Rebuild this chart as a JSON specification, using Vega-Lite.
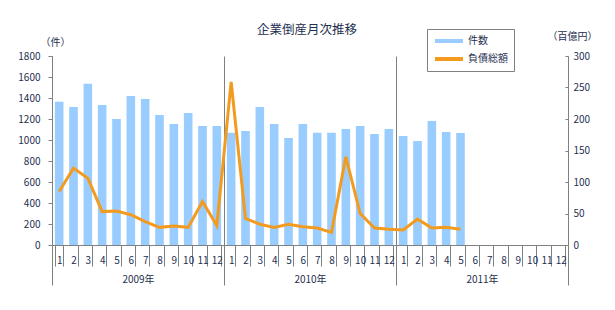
{
  "$schema": "https://vega.github.io/schema/vega-lite/v6.json",
  "autosize": "none",
  "width": 516,
  "height": 189,
  "padding": {"left": 52, "top": 56, "right": 47, "bottom": 65},
  "background": "white",
  "title": {"text": "企業倒産月次推移", "frame": "group", "anchor": "middle", "offset": -8, "fontSize": 12.5, "fontWeight": "normal", "color": "#1F3050", "font": "Noto Sans CJK JP", "dx": -3},
  "config": {
    "view": {"stroke": null},
    "font": "Noto Sans CJK JP",
    "axis": {"labelColor": "#1F3050", "titleColor": "#1F3050", "labelFont": "Noto Sans CJK JP", "titleFont": "Noto Sans CJK JP", "labelFontSize": 10, "titleFontSize": 10, "titleFontWeight": "normal", "domainColor": "#808080", "tickColor": "#808080", "gridColor": "#808080"}
  },
  "data": {"values": [
    {"m": "2009-1", "year": "2009年", "count": 1365, "debt": 85},
    {"m": "2009-2", "year": "2009年", "count": 1315, "debt": 122},
    {"m": "2009-3", "year": "2009年", "count": 1535, "debt": 106},
    {"m": "2009-4", "year": "2009年", "count": 1333, "debt": 53},
    {"m": "2009-5", "year": "2009年", "count": 1200, "debt": 54},
    {"m": "2009-6", "year": "2009年", "count": 1419, "debt": 48},
    {"m": "2009-7", "year": "2009年", "count": 1390, "debt": 37},
    {"m": "2009-8", "year": "2009年", "count": 1238, "debt": 28},
    {"m": "2009-9", "year": "2009年", "count": 1152, "debt": 30},
    {"m": "2009-10", "year": "2009年", "count": 1257, "debt": 28},
    {"m": "2009-11", "year": "2009年", "count": 1133, "debt": 69},
    {"m": "2009-12", "year": "2009年", "count": 1133, "debt": 31},
    {"m": "2010-1", "year": "2010年", "count": 1070, "debt": 259},
    {"m": "2010-2", "year": "2010年", "count": 1086, "debt": 42},
    {"m": "2010-3", "year": "2010年", "count": 1314, "debt": 33},
    {"m": "2010-4", "year": "2010年", "count": 1152, "debt": 28},
    {"m": "2010-5", "year": "2010年", "count": 1019, "debt": 33},
    {"m": "2010-6", "year": "2010年", "count": 1152, "debt": 29},
    {"m": "2010-7", "year": "2010年", "count": 1070, "debt": 27},
    {"m": "2010-8", "year": "2010年", "count": 1070, "debt": 20},
    {"m": "2010-9", "year": "2010年", "count": 1105, "debt": 140},
    {"m": "2010-10", "year": "2010年", "count": 1133, "debt": 50},
    {"m": "2010-11", "year": "2010年", "count": 1057, "debt": 27},
    {"m": "2010-12", "year": "2010年", "count": 1105, "debt": 25},
    {"m": "2011-1", "year": "2011年", "count": 1038, "debt": 24},
    {"m": "2011-2", "year": "2011年", "count": 990, "debt": 41},
    {"m": "2011-3", "year": "2011年", "count": 1181, "debt": 27},
    {"m": "2011-4", "year": "2011年", "count": 1076, "debt": 28},
    {"m": "2011-5", "year": "2011年", "count": 1067, "debt": 25},
    {"m": "2011-6", "year": "2011年", "count": null, "debt": null},
    {"m": "2011-7", "year": "2011年", "count": null, "debt": null},
    {"m": "2011-8", "year": "2011年", "count": null, "debt": null},
    {"m": "2011-9", "year": "2011年", "count": null, "debt": null},
    {"m": "2011-10", "year": "2011年", "count": null, "debt": null},
    {"m": "2011-11", "year": "2011年", "count": null, "debt": null},
    {"m": "2011-12", "year": "2011年", "count": null, "debt": null}
  ]},
  "layer": [
    {
      "mark": {"type": "bar", "opacity": 0},
      "encoding": {
        "x": {"field": "year", "type": "nominal", "sort": null,
          "scale": {"paddingInner": 0, "paddingOuter": 0},
          "axis": {"orient": "bottom", "title": null, "labelAngle": 0, "domain": false, "grid": true, "gridColor": "#808080", "gridWidth": 1, "tickBand": "extent", "tickSize": 40, "labelPadding": -11, "labelFontSize": 10}
        }
      }
    },
    {
      "mark": {"type": "bar", "color": "#99CCFF"},
      "encoding": {
        "x": {"field": "m", "type": "nominal", "sort": null,
          "scale": {"paddingInner": 0.4, "paddingOuter": 0.2, "domain": ["2009-1","2009-2","2009-3","2009-4","2009-5","2009-6","2009-7","2009-8","2009-9","2009-10","2009-11","2009-12","2010-1","2010-2","2010-3","2010-4","2010-5","2010-6","2010-7","2010-8","2010-9","2010-10","2010-11","2010-12","2011-1","2011-2","2011-3","2011-4","2011-5","2011-6","2011-7","2011-8","2011-9","2011-10","2011-11","2011-12"]},
          "axis": {"orient": "bottom", "title": null, "labelAngle": 0, "labelExpr": "split(datum.value, '-')[1]", "tickBand": "extent", "tickSize": 21, "labelPadding": -11, "grid": false}
        },
        "y": {"field": "count", "type": "quantitative",
          "scale": {"domain": [0, 1800], "nice": false},
          "axis": {"values": [0, 200, 400, 600, 800, 1000, 1200, 1400, 1600, 1800], "format": "d", "title": "（件）", "titleAngle": 0, "titleAlign": "center", "titleBaseline": "middle", "titleX": 3, "titleY": -14, "tickSize": 4, "labelPadding": 8, "grid": false}
        },
        "color": {"datum": "件数", "type": "nominal",
          "scale": {"domain": ["件数", "負債総額"], "range": ["#99CCFF", "#F29B1F"]},
          "legend": {"title": null, "orient": "none", "legendX": 375, "legendY": -27, "direction": "vertical", "strokeColor": "#808080", "fillColor": "white", "padding": 6, "symbolType": "stroke", "symbolSize": 784, "symbolStrokeWidth": 4, "labelFontSize": 10, "labelColor": "#1F3050", "labelFont": "Noto Sans CJK JP", "rowPadding": 6, "labelOffset": 3, "clipHeight": 12,
            "encoding": {"symbols": {"update": {"strokeWidth": {"signal": "datum.value === '件数' ? 6 : 3"}, "stroke": {"signal": "datum.value === '件数' ? '#99CCFF' : '#F29B1F'"}}}}
          }
        }
      }
    },
    {
      "mark": {"type": "line", "strokeWidth": 3, "color": "#F29B1F"},
      "encoding": {
        "x": {"field": "m", "type": "nominal", "sort": null, "axis": null,
          "scale": {"domain": ["2009-1","2009-2","2009-3","2009-4","2009-5","2009-6","2009-7","2009-8","2009-9","2009-10","2009-11","2009-12","2010-1","2010-2","2010-3","2010-4","2010-5","2010-6","2010-7","2010-8","2010-9","2010-10","2010-11","2010-12","2011-1","2011-2","2011-3","2011-4","2011-5","2011-6","2011-7","2011-8","2011-9","2011-10","2011-11","2011-12"]}
        },
        "y": {"field": "debt", "type": "quantitative",
          "scale": {"domain": [0, 300], "nice": false},
          "axis": {"orient": "right", "values": [0, 50, 100, 150, 200, 250, 300], "title": "（百億円）", "titleAngle": 0, "titleAlign": "center", "titleBaseline": "middle", "titleX": 4, "titleY": -20, "tickSize": -3, "labelPadding": 8, "grid": false}
        },
        "color": {"datum": "負債総額", "type": "nominal"}
      }
    }
  ],
  "resolve": {"scale": {"x": "independent", "y": "independent"}, "axis": {"x": "independent", "y": "independent"}}
}
